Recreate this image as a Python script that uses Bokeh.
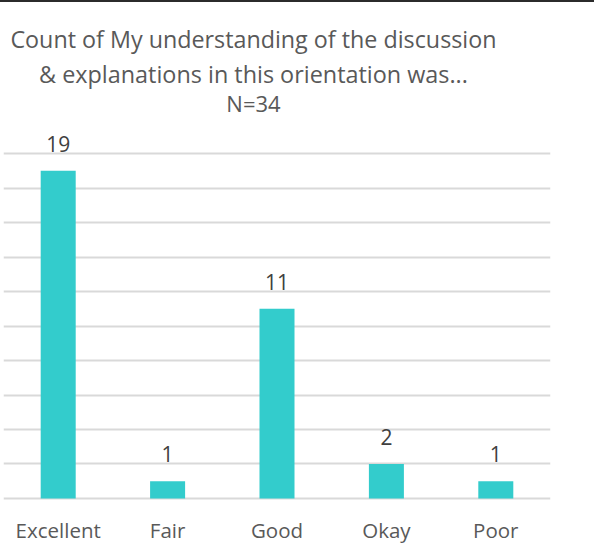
from bokeh.plotting import figure
from bokeh.models import ColumnDataSource, Label, SingleIntervalTicker, Range1d
from bokeh.core.properties import value
from bokeh.embed import file_html
from bokeh.resources import INLINE

categories = ["Excellent", "Fair", "Good", "Okay", "Poor"]
counts = [19, 1, 11, 2, 1]
title_lines = ["Count of My understanding of the discussion",
               "& explanations in this orientation was...",
               "N=34"]

FONT = "Open Sans"
source = ColumnDataSource(dict(cat=categories, count=counts,
                               label=[str(c) for c in counts]))

# frame spans from the top of the canvas down to the baseline; the upper part
# of the value range holds the title, gridlines are bounded to 0..20
p = figure(x_range=categories, y_range=Range1d(-0.116, 28.754),
           width=594, height=556,
           output_backend="svg", toolbar_location=None,
           min_border_left=3, min_border_right=44,
           min_border_top=0, min_border_bottom=58)
p.styles = {"border-top": "2px solid #2b2b2b"}

p.vbar(x="cat", top="count", width=0.32, source=source,
       fill_color="#33CCCC", line_color=None)

p.text(x="cat", y="count", text="label", source=source,
       text_align="center", text_baseline="alphabetic", y_offset=-27,
       text_font=value(FONT), text_font_size="21px", text_color="#404040")

p.yaxis.visible = False
p.yaxis.ticker = SingleIntervalTicker(interval=2)
p.ygrid.ticker = SingleIntervalTicker(interval=2)
p.ygrid.bounds = (0, 20)
p.ygrid.grid_line_color = "#d9d9d9"
p.ygrid.grid_line_width = 2
p.xgrid.grid_line_color = None

p.xaxis.axis_line_color = None
p.xaxis.major_tick_line_color = None
p.xaxis.minor_tick_line_color = None
p.xaxis.major_tick_out = 0
p.xaxis.major_label_standoff = 15
p.xaxis.major_label_text_font = FONT
p.xaxis.major_label_text_font_size = "20.5px"
p.xaxis.major_label_text_color = "#595959"

p.outline_line_color = None
p.background_fill_color = "white"
p.border_fill_color = "white"

title_y = [26.65, 24.6, 22.95]
title_sizes = ["23.3px", "23.4px", "22px"]
for txt, ty, fs in zip(title_lines, title_y, title_sizes):
    p.add_layout(Label(x=2.285, y=ty, text=txt, text_align="center",
                       text_baseline="alphabetic", text_font=FONT,
                       text_font_size=fs, text_color="#595959"))

open("out.html", "w").write(file_html(p, INLINE))
